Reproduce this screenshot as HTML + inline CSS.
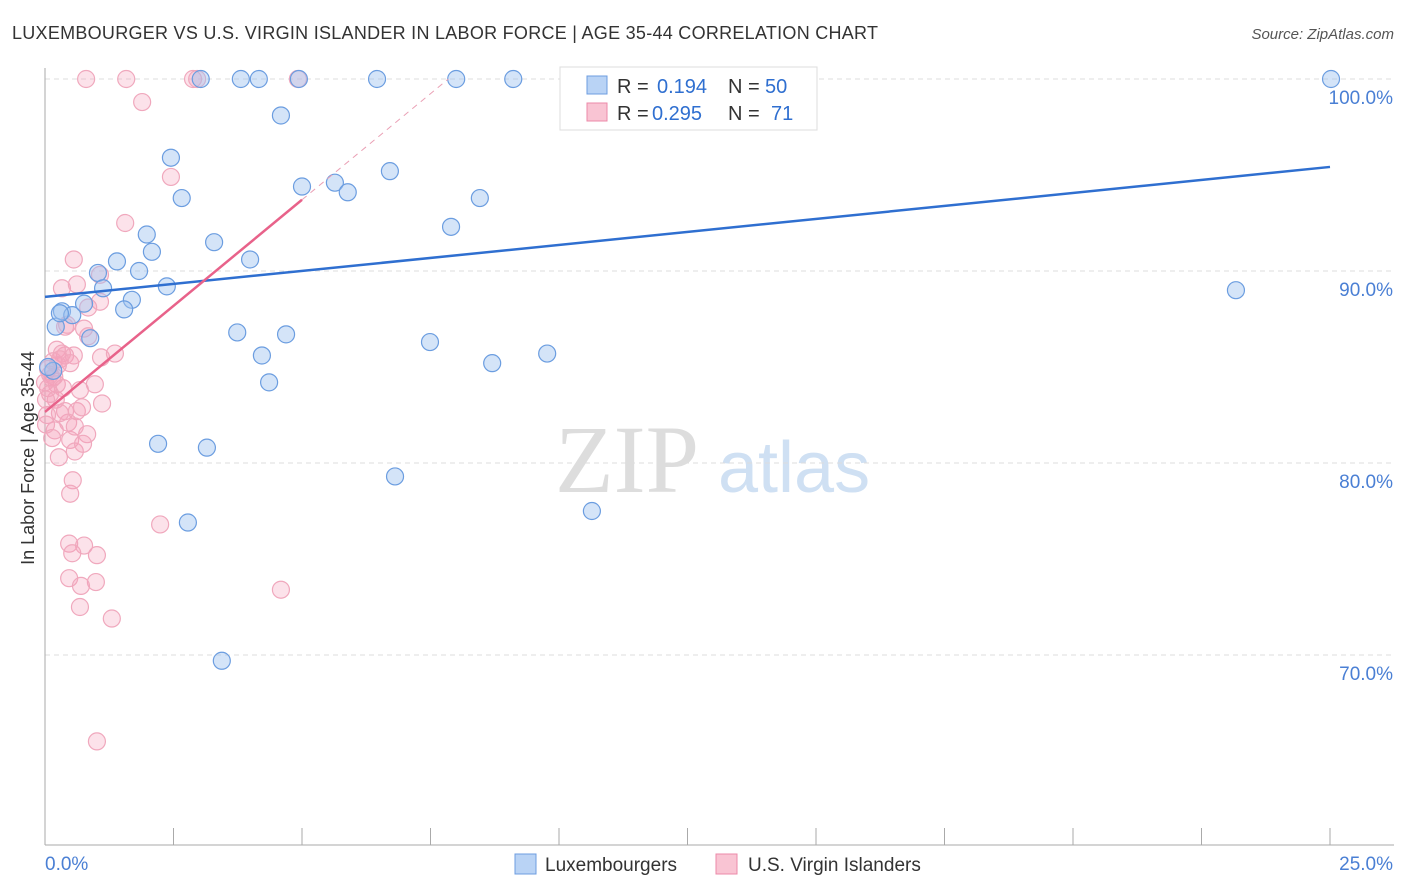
<!DOCTYPE html>
<html><head><meta charset="utf-8"><style>
body{margin:0;background:#fff;font-family:"Liberation Sans",sans-serif}
svg{display:block}
</style></head><body>
<svg id="c" width="1406" height="892">
<text x="12" y="39" font-size="18" fill="#333" textLength="866">LUXEMBOURGER VS U.S. VIRGIN ISLANDER IN LABOR FORCE | AGE 35-44 CORRELATION CHART</text>
<text x="1394" y="39" font-size="15" fill="#555" font-style="italic" text-anchor="end">Source: ZipAtlas.com</text>
<text x="34" y="458" font-size="18" fill="#333" text-anchor="middle" transform="rotate(-90 34 458)">In Labor Force | Age 35-44</text>
<text x="555" y="492" font-size="96" fill="#ddd" font-family="Liberation Serif">ZIP</text>
<text x="718" y="492" font-size="72" fill="#cfe0f3">atlas</text>
<g id="grid"></g><g id="pts"></g><g id="lines"></g>
<g>
<rect x="560" y="67" width="257" height="63" fill="#fff" stroke="#ddd"/>
<rect x="587" y="76" width="20" height="18" fill="#b9d3f5" stroke="#6d9de0"/>
<rect x="587" y="103" width="20" height="18" fill="#f9c4d3" stroke="#ec8aa8"/>
<text x="617" y="93" font-size="20" fill="#333">R =</text>
<text x="657" y="93" font-size="20" fill="#2f6fd0">0.194</text>
<text x="728" y="93" font-size="20" fill="#333">N =</text>
<text x="765" y="93" font-size="20" fill="#2f6fd0">50</text>
<text x="617" y="120" font-size="20" fill="#333">R =</text>
<text x="652" y="120" font-size="20" fill="#2f6fd0">0.295</text>
<text x="728" y="120" font-size="20" fill="#333">N =</text>
<text x="771" y="120" font-size="20" fill="#2f6fd0">71</text>
</g>
<g>
<rect x="515" y="854" width="21" height="20" fill="#b9d3f5" stroke="#6d9de0"/>
<text x="545" y="871" font-size="19" fill="#333">Luxembourgers</text>
<rect x="716" y="854" width="21" height="20" fill="#f9c4d3" stroke="#ec8aa8"/>
<text x="748" y="871" font-size="19" fill="#333">U.S. Virgin Islanders</text>
</g>
</svg>
<script>
const yTicks=[100,90,80,70];
const yTickLabels=["100.0%","90.0%","80.0%","70.0%"];
const xTickLabels=["0.0%","25.0%"];
const blueX=[3.03,3.81,4.16,4.94,6.46,8.0,9.11,25.02,4.59,2.45,2.66,5.0,5.64,5.89,6.71,8.46,7.9,1.98,3.29,2.08,1.4,3.99,1.83,1.03,1.13,2.37,1.69,0.76,1.54,0.33,0.53,0.21,0.88,3.74,4.69,4.22,7.49,8.7,9.77,4.36,23.17,0.16,2.2,3.15,6.81,10.64,2.78,3.44,0.06,0.29];
const blueY=[100,100,100,100,100,100,100,100,98.1,95.9,93.8,94.4,94.6,94.1,95.2,93.8,92.3,91.9,91.5,91.0,90.5,90.6,90.0,89.9,89.1,89.2,88.5,88.3,88.0,87.9,87.7,87.1,86.5,86.8,86.7,85.6,86.3,85.2,85.7,84.2,89.0,84.8,81.0,80.8,79.3,77.5,76.9,69.7,85.0,87.8];
const pinkX=[0.8,1.58,2.88,2.96,4.92,1.89,2.45,1.56,0.56,0.33,0.62,1.07,1.07,0.84,0.43,0.76,0.84,0.23,0.39,0.33,0.56,1.09,1.36,0.16,0.06,0.18,0,0.23,0.35,0.97,0.68,0.1,0.21,0.39,0.62,0.72,1.11,0.45,0.19,0.82,0.14,0.49,0.58,0.27,0.54,0.49,2.24,0.47,0.76,0.53,1.01,0.47,0.99,0.7,0.68,1.3,4.59,1.01,0.06,0.1,0.02,0.29,0.04,0.02,0.25,0.49,0.29,0.14,0.58,0.39,0.74];
const pinkY=[100,100,100,100,100,98.8,94.9,92.5,90.6,89.1,89.3,89.8,88.4,88.1,87.2,87.0,86.6,85.9,85.6,85.7,85.6,85.5,85.7,85.3,84.9,84.5,84.2,84.1,83.9,84.1,83.8,83.6,83.3,82.7,82.7,82.9,83.1,82.1,81.7,81.5,81.3,81.2,80.6,80.3,79.1,78.4,76.8,75.8,75.7,75.3,75.2,74.0,73.8,73.6,72.5,71.9,73.4,65.5,83.9,84.6,83.3,82.6,82.5,82.0,85.1,85.2,85.4,84.4,81.9,87.1,81.0];
const blueLine=[88.65,95.42];
const pinkLine=[82.66,2.21];
const X=v=>45+v/25*1285, Y=v=>79+(100-v)*19.2;
const NS="http://www.w3.org/2000/svg";
function mk(p,t,a){const e=document.createElementNS(NS,t);for(const k in a)e.setAttribute(k,a[k]);p.appendChild(e);return e;}
const g=document.getElementById('grid');
yTicks.forEach((t,i)=>{
 const l=mk(g,'line',{x1:45,x2:1394,y1:Y(t),y2:Y(t),stroke:'#ddd','stroke-dasharray':'5,4'});
 
 
 const tx=mk(g,'text',{x:1393,y:Y(t)+25,'font-size':19,fill:'#4a7fd4','text-anchor':'end'});tx.textContent=yTickLabels[i];
 
 
});
const ax=mk(g,'line',{x1:45,x2:45,y1:68,y2:845,stroke:'#aaa'});


const bx=mk(g,'line',{x1:45,x2:1394,y1:845,y2:845,stroke:'#aaa'});


for(let i=0;i<=10;i++){const x=45+i*128.5;const t=mk(g,'line',{x1:x,x2:x,y1:828,y2:845,stroke:'#aaa'});
 
 }
[[0,45,'start'],[25,1393,'end']].forEach((d,i)=>{const t=mk(g,'text',{x:d[1],y:870,'font-size':19,fill:'#4a7fd4','text-anchor':d[2]});t.textContent=xTickLabels[i];
 
 });
const p=document.getElementById('pts');
pinkX.forEach((x,i)=>{const c=mk(p,'circle',{cx:X(x),cy:Y(pinkY[i]),r:8.5,fill:'rgba(244,160,185,0.3)',stroke:'#f0a8bd','stroke-width':1.2});
 
 });
blueX.forEach((x,i)=>{const c=mk(p,'circle',{cx:X(x),cy:Y(blueY[i]),r:8.5,fill:'rgba(160,196,240,0.45)',stroke:'#6b9de0','stroke-width':1.2});
 
 });
const L=document.getElementById('lines');
const b=mk(L,'line',{x1:X(0),y1:Y(blueLine[0]),x2:X(25),y2:Y(blueLine[1]),stroke:'#2f6fd0','stroke-width':2.5});


const xe=(100-pinkLine[0])/pinkLine[1];
const pl=mk(L,'line',{x1:X(0),y1:Y(pinkLine[0]),x2:X(5),y2:Y(pinkLine[0]+5*pinkLine[1]),stroke:'#e8628a','stroke-width':2.5});


const pd=mk(L,'line',{x1:X(5),y1:Y(pinkLine[0]+5*pinkLine[1]),x2:X(xe),y2:Y(100),stroke:'#eaa0b5','stroke-width':1,'stroke-dasharray':'6,5'});


</script>
</body></html>
